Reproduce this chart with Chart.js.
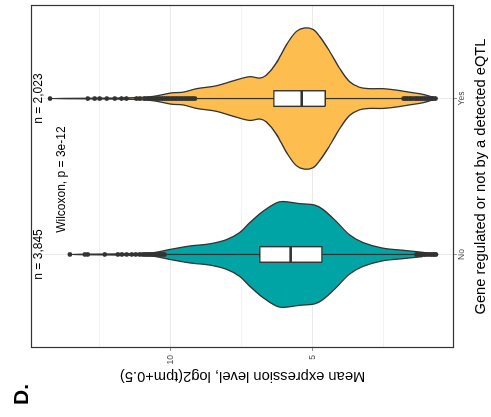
<!DOCTYPE html>
<html>
<head>
<meta charset="utf-8">
<script src="https://cdn.jsdelivr.net/npm/chart.js@4"></script>
<style>
  body { margin: 0; background: #fff; overflow: hidden; width: 491px; height: 417px; }
  /* the plot is drawn upright, then turned a quarter to the left like the figure */
  #wrap { position: absolute; left: 0; top: 0; width: 417px; height: 491px;
          transform-origin: 0 0; transform: translateY(417px) rotate(-90deg); }
</style>
</head>
<body>
<div id="wrap"><canvas id="chart" width="417" height="491"></canvas></div>
<script>
    // groups
    var categories = ['No', 'Yes'];
    var groupCounts = [3845, 2023];
    var testLabel = 'Wilcoxon, p = 3e-12';

    // violin outlines: expression value -> relative density
    var noDensityAt = [0.65, 1.13, 1.84, 2.54, 3.24, 3.71, 4.18, 4.65, 4.94, 5.47, 6.05, 6.29, 6.76, 7.22, 7.58, 8.04, 8.63, 9.33, 10.04, 10.74, 13.55];
    var noDensity   = [0, 0.03, 0.06, 0.09, 0.17, 0.28, 0.47, 0.64, 0.70, 0.72, 0.75, 0.73, 0.61, 0.45, 0.31, 0.21, 0.15, 0.12, 0.07, 0.02, 0];
    var yesDensityAt = [0.65, 0.78, 1.13, 1.60, 2.07, 2.54, 3.01, 3.36, 3.71, 4.06, 4.41, 4.76, 5.00, 5.29, 5.58, 5.93, 6.29, 6.64, 6.87, 7.22, 7.81, 8.40, 9.09, 9.57, 9.97, 10.63, 11.5, 14.25];
    var yesDensity   = [0, 0.02, 0.06, 0.09, 0.12, 0.14, 0.14, 0.16, 0.24, 0.43, 0.67, 0.88, 0.98, 1.0, 0.95, 0.76, 0.50, 0.33, 0.29, 0.31, 0.25, 0.18, 0.14, 0.09, 0.08, 0.03, 0.01, 0];

    // boxplot stats per group: [No, Yes]
    var whiskerLow  = [1.39, 1.84];
    var q1          = [4.68, 4.56];
    var median      = [5.78, 5.39];
    var q3          = [6.87, 6.37];
    var whiskerHigh = [10.16, 9.09];

    var noOutliers = [13.55, 13.02, 12.92, 12.32, 11.86, 11.72, 11.55, 11.37, 11.23, 11.09, 10.98, 10.9, 10.82, 10.74, 10.66, 10.58, 10.5, 10.43, 10.36, 10.29, 10.22,
                      1.35, 1.28, 1.22, 1.15, 1.08, 1.02, 0.95, 0.88, 0.82, 0.76, 0.7, 0.66];
    var yesOutliers = [14.25, 12.92, 12.68, 12.5, 12.25, 11.97, 11.73, 11.56, 11.21, 11.09, 10.92, 10.8, 10.68, 10.6, 10.52, 10.45, 10.38, 10.3, 10.22, 10.15, 10.08,
                       10.0, 9.93, 9.86, 9.8, 9.72, 9.65, 9.58, 9.5, 9.43, 9.36, 9.29, 9.22, 9.15,
                       1.8, 1.74, 1.68, 1.6, 1.55, 1.48, 1.4, 1.35, 1.28, 1.2, 1.14, 1.07, 1.0, 0.93, 0.87, 0.8, 0.74, 0.68];

    // value axis ticks
    var majorTicks = [5, 10];
    var minorTicks = [2.5, 7.5, 12.5];

    var fills = ['#01a4a4', '#fdbd4f'];
    var ink = '#333333';
    var violinWidth = 0.453;
    var boxWidth = 0.05;
    var fontFamily = '"Liberation Sans", Arial, Helvetica, sans-serif';

    function violinPoints(center, at, dens) {
        var pts = [];
        for (var i = 0; i < at.length; i++) {
            pts.push({x: center + dens[i] * violinWidth, y: at[i]});
        }
        for (var j = at.length - 2; j > 0; j--) {
            pts.push({x: center - dens[j] * violinWidth, y: at[j]});
        }
        return pts;
    }

    var datasets = [];
    var violins = [[noDensityAt, noDensity], [yesDensityAt, yesDensity]];
    var outliers = [noOutliers, yesOutliers];

    categories.forEach(function(cat, i) {
        var c = i + 1;
        datasets.push({
            label: cat + ' violin', order: 5,
            data: violinPoints(c, violins[i][0], violins[i][1]),
            backgroundColor: fills[i], borderColor: ink, borderWidth: 1.3,
            fill: 'shape', tension: 0.35, pointRadius: 0
        });
        datasets.push({
            label: cat + ' whisker', order: 4,
            data: [{x: c, y: whiskerLow[i]}, {x: c, y: whiskerHigh[i]}],
            borderColor: ink, borderWidth: 1.2, pointRadius: 0, fill: false
        });
        datasets.push({
            label: cat + ' box', order: 3,
            data: [{x: c - boxWidth, y: q1[i]}, {x: c + boxWidth, y: q1[i]},
                   {x: c + boxWidth, y: q3[i]}, {x: c - boxWidth, y: q3[i]}, {x: c - boxWidth, y: q1[i]}],
            backgroundColor: '#ffffff', borderColor: ink, borderWidth: 1.4,
            fill: 'shape', tension: 0, pointRadius: 0
        });
        datasets.push({
            label: cat + ' median', order: 2,
            data: [{x: c - boxWidth, y: median[i]}, {x: c + boxWidth, y: median[i]}],
            borderColor: ink, borderWidth: 2.6, pointRadius: 0, fill: false
        });
        datasets.push({
            label: cat + ' outliers', order: 1,
            data: outliers[i].map(function(v) { return {x: c, y: v}; }),
            showLine: false, pointRadius: 2.4, pointBorderWidth: 0,
            pointBackgroundColor: ink, pointBorderColor: ink
        });
    });

    var annotate = {
        id: 'annotate',
        afterDatasetsDraw: function(chart) {
            var ctx = chart.ctx, a = chart.chartArea;
            var xs = chart.scales.x, ys = chart.scales.y;
            ctx.save();
            ctx.strokeStyle = ink;
            ctx.lineWidth = 1.2;
            ctx.strokeRect(a.left + 0.5, a.top + 0.5, a.right - a.left - 1, a.bottom - a.top - 1);

            ctx.fillStyle = '#000';
            ctx.textAlign = 'center';
            ctx.textBaseline = 'middle';
            ctx.font = '12px ' + fontFamily;
            groupCounts.forEach(function(n, i) {
                ctx.fillText('n = ' + n.toLocaleString('en-US'), xs.getPixelForValue(i + 1), ys.getPixelForValue(14.64));
            });
            ctx.fillText(testLabel, xs.getPixelForValue(1.48), ys.getPixelForValue(13.83));

            ctx.textAlign = 'left';
            ctx.textBaseline = 'alphabetic';
            ctx.font = 'bold 21px ' + fontFamily;
            ctx.fillText('D.', 12, 28);
            ctx.restore();
        }
    };

    new Chart(document.getElementById('chart'), {
        type: 'line',
        data: { datasets: datasets },
        options: {
            responsive: false,
            animation: false,
            devicePixelRatio: 1,
            layout: { padding: { left: 0, right: 5, top: 31, bottom: 0 } },
            plugins: { legend: { display: false }, tooltip: { enabled: false } },
            scales: {
                x: {
                    type: 'linear', min: 0.4, max: 2.6,
                    afterBuildTicks: function(s) { s.ticks = categories.map(function(c, i) { return {value: i + 1}; }); },
                    afterFit: function(s) { s.height = 37; },
                    ticks: {
                        autoSkip: false, padding: 0, color: '#4d4d4d',
                        font: { family: fontFamily, size: 8.5 },
                        callback: function(v) { return categories[v - 1]; }
                    },
                    grid: { color: '#ebebeb', lineWidth: 1, tickLength: 3, tickColor: '#999999' },
                    border: { display: false },
                    title: {
                        display: true, text: 'Gene regulated or not by a detected eQTL',
                        color: '#000', font: { family: fontFamily, size: 14.7 }, padding: { top: 0, bottom: 1 }
                    }
                },
                y: {
                    type: 'linear', min: 0.03, max: 14.92,
                    afterBuildTicks: function(s) {
                        s.ticks = minorTicks.concat(majorTicks).sort(function(a, b) { return a - b; })
                            .map(function(v) { return {value: v}; });
                    },
                    afterFit: function(s) { s.width = 69; },
                    ticks: {
                        autoSkip: false, padding: 4, color: '#4d4d4d',
                        font: { family: fontFamily, size: 8.5 },
                        callback: function(v) { return majorTicks.indexOf(v) >= 0 ? String(v) : ''; }
                    },
                    grid: {
                        color: '#ebebeb', tickLength: 3,
                        lineWidth: function(c) { return c.tick && majorTicks.indexOf(c.tick.value) >= 0 ? 1 : 0.6; },
                        tickColor: function(c) { return c.tick && majorTicks.indexOf(c.tick.value) >= 0 ? '#999999' : 'rgba(0,0,0,0)'; }
                    },
                    border: { display: false },
                    title: {
                        display: true, text: 'Mean expression level, log2(tpm+0.5)',
                        color: '#000', font: { family: fontFamily, size: 14.7 }, padding: { top: 32, bottom: 0 }
                    }
                }
            }
        },
        plugins: [annotate]
    });
</script>
</body>
</html>
